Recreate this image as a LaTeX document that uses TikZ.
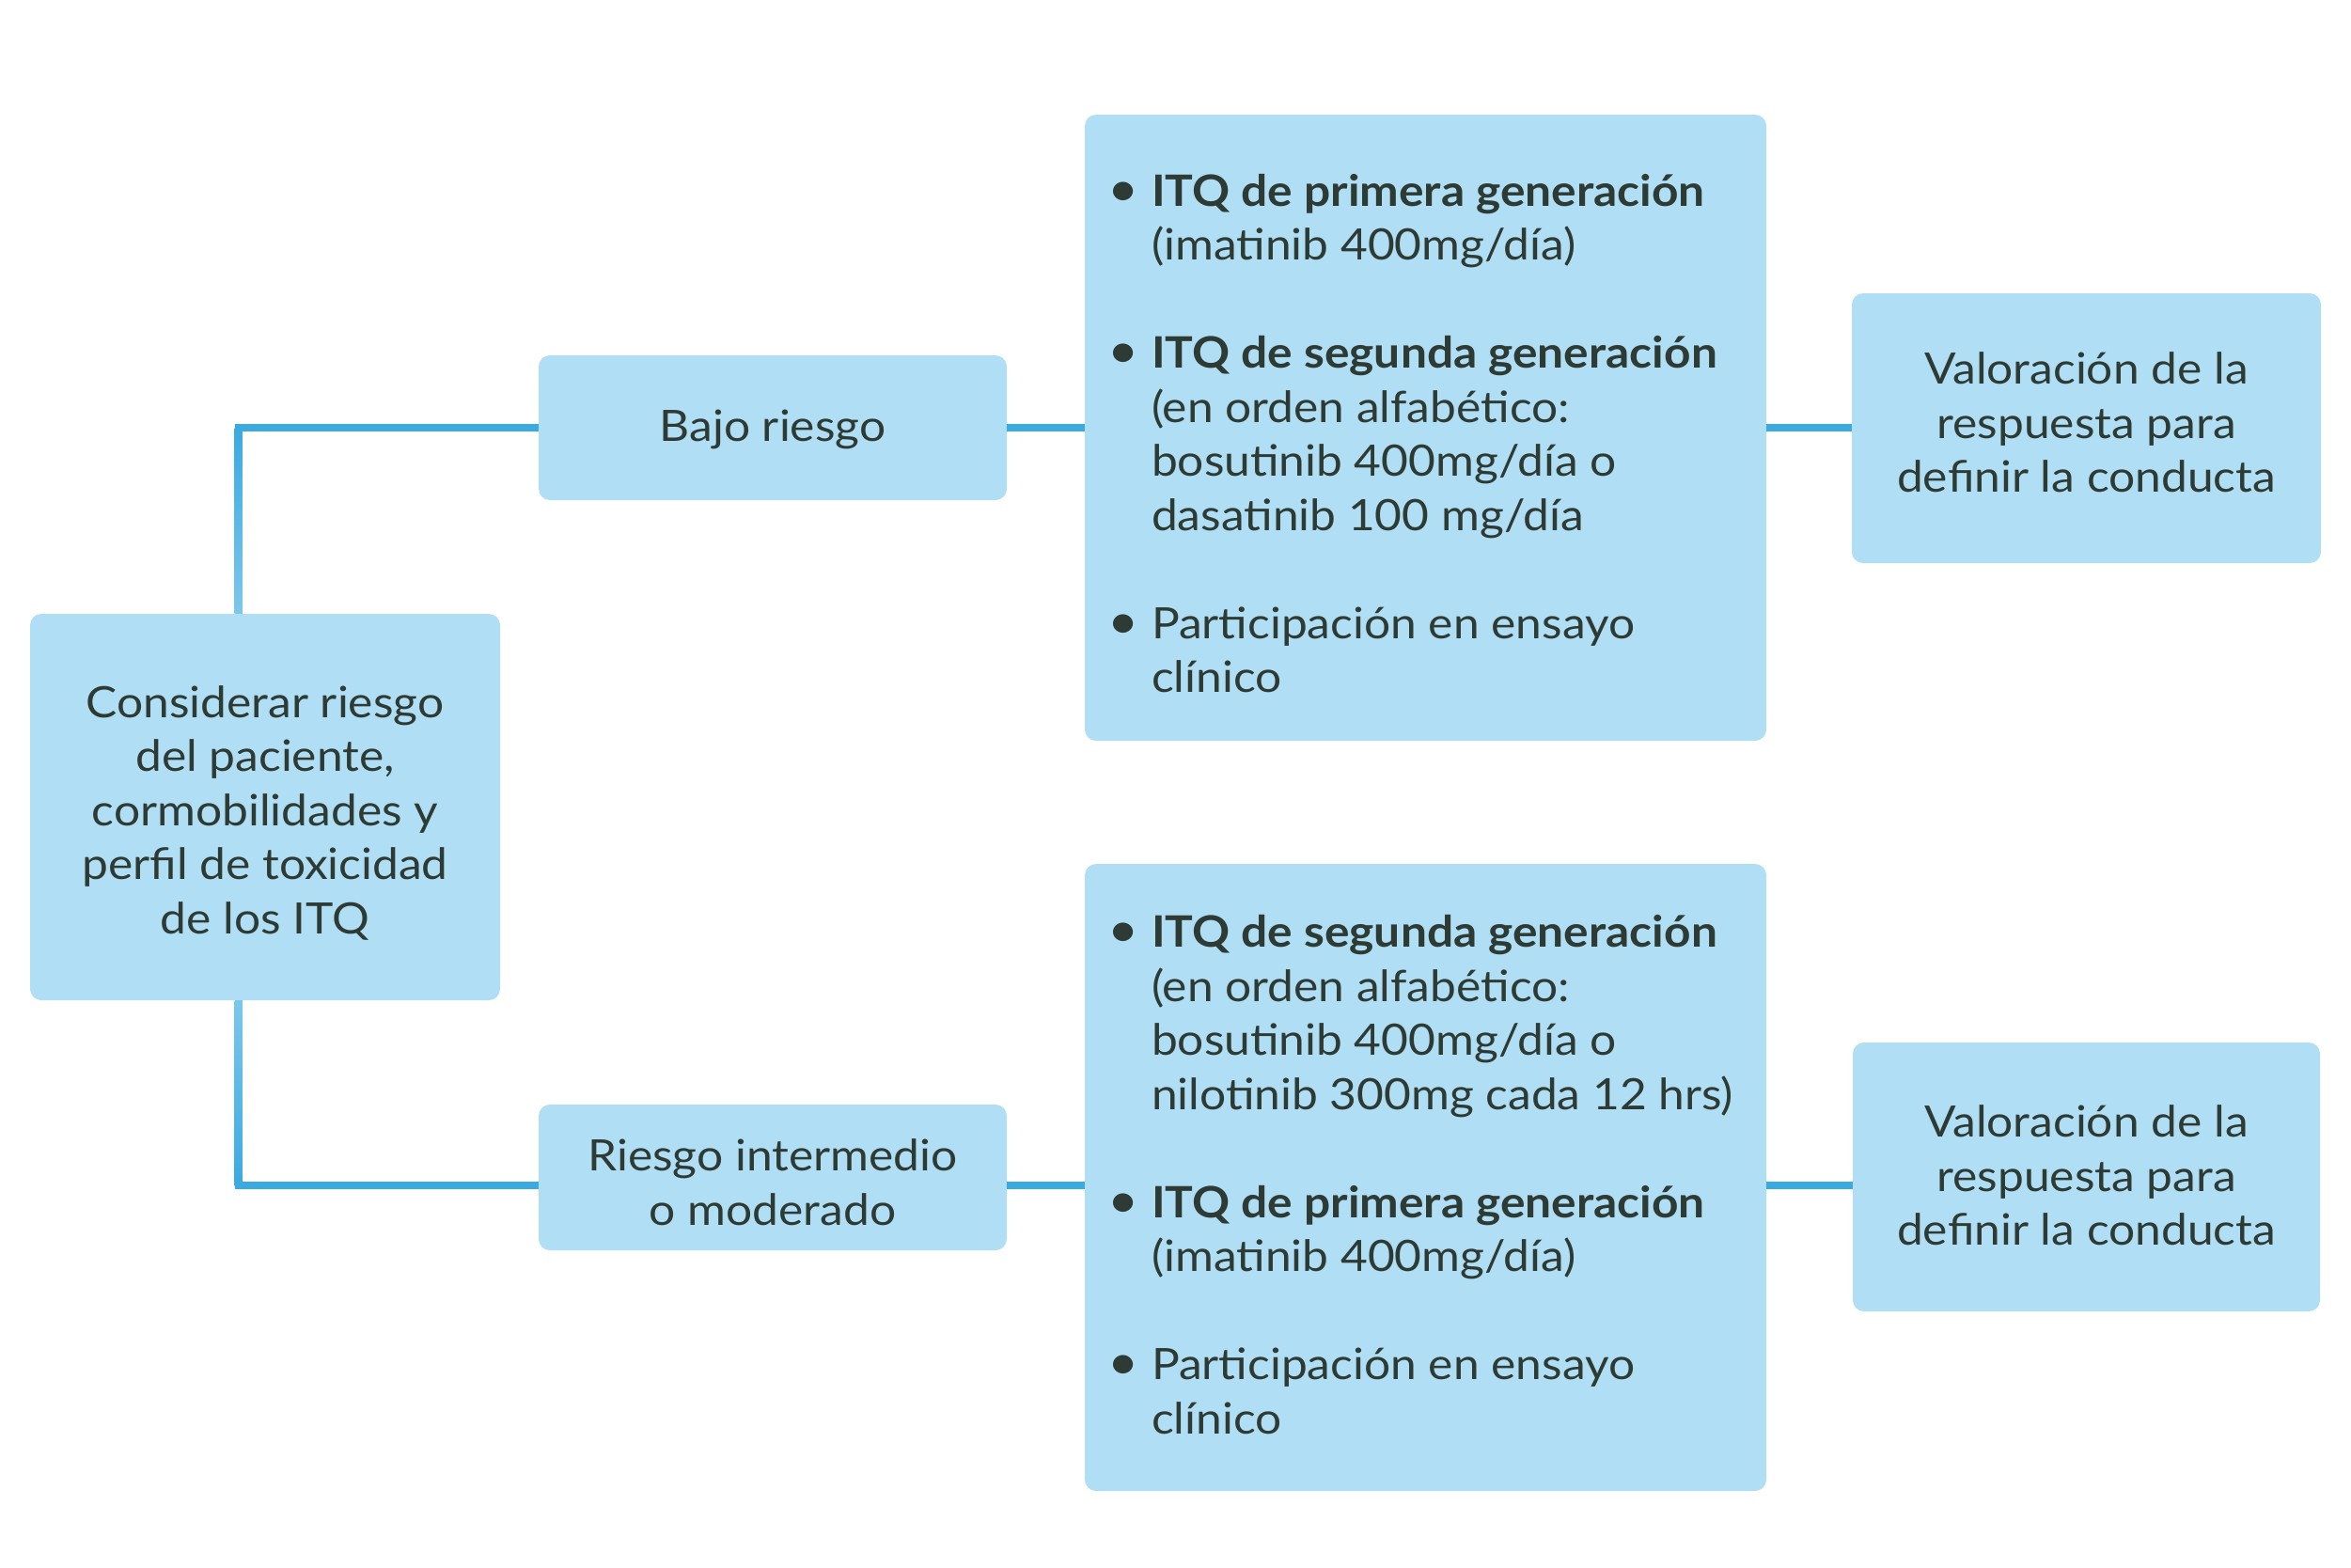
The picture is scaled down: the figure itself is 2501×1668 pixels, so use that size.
\documentclass[tikz,border=0pt]{standalone}
\usepackage{fontspec}
\setmainfont{Lato}[FakeStretch=1.08]
\newcommand\mainfs{\fontsize{46}{57.5}\selectfont}
\newcommand\bul{\llap{\scalebox{1.15}{•}\hspace{13pt}}}
\definecolor{boxblue}{HTML}{B0DEF4}
\definecolor{lineblue}{HTML}{3AAAE1}
\definecolor{linelight}{HTML}{7CC7EC}
\definecolor{txt}{HTML}{2E3A34}
\begin{document}
\begin{tikzpicture}[x=1pt,y=-1pt,
  box/.style={fill=boxblue, rounded corners=12pt, inner sep=0pt},
  lbl/.style={text=txt, align=center, inner sep=0pt, font=\mainfs},
  conn/.style={draw=lineblue, line width=8pt},
  body/.style={text=txt, align=left, inner sep=0pt, font=\mainfs}]
\useasboundingbox[fill=white] (0,0) rectangle (2501,1668);

\node[box, minimum width=500pt, minimum height=411pt] (left) at (282,858.5) {};
\node[box, minimum width=498pt, minimum height=154pt] (bajo) at (822,455) {};
\node[box, minimum width=498pt, minimum height=155pt] (riesgo) at (822,1252.5) {};
\node[box, minimum width=725pt, minimum height=666pt] (big1) at (1516.5,455) {};
\node[box, minimum width=725pt, minimum height=667pt] (big2) at (1516.5,1252.5) {};
\node[box, minimum width=499pt, minimum height=287pt] (right1) at (2219.5,455.5) {};
\node[box, minimum width=497pt, minimum height=286pt] (right2) at (2219.5,1252) {};

\node[lbl, yshift=-6pt] (leftt) at (left)
  {Considerar riesgo\\del paciente,\\cormobilidades y\\perfil de toxicidad\\de los ITQ};
\node[lbl, yshift=-1.5pt] (bajot) at (bajo) {Bajo riesgo};
\node[lbl, yshift=-5pt] (riesgot) at (riesgo) {Riesgo intermedio\\o moderado};
\node[lbl, yshift=6pt] (right1t) at (right1)
  {Valoración de la\\respuesta para\\definir la conducta};
\node[lbl, yshift=1.5pt] (right2t) at (right2)
  {Valoración de la\\respuesta para\\definir la conducta};

\node[body, anchor=west, yshift=-6pt] (t1) at ([xshift=71pt]big1.west) {%
\bul\textbf{ITQ de primera generación}\\
(imatinib 400mg/día)\\[57.5pt]
\bul\textbf{ITQ de segunda generación}\\
(en orden alfabético:\\
bosutinib 400mg/día o\\
dasatinib 100 mg/día\\[57.5pt]
\bul Participación en ensayo\\
clínico};
\node[body, anchor=west, yshift=3pt] (t2) at ([xshift=71pt]big2.west) {%
\bul\textbf{ITQ de segunda generación}\\
(en orden alfabético:\\
bosutinib 400mg/día o\\
nilotinib 300mg cada 12 hrs)\\[57.5pt]
\bul\textbf{ITQ de primera generación}\\
(imatinib 400mg/día)\\[57.5pt]
\bul Participación en ensayo\\
clínico};

\coordinate (spine) at (253.7,0);
\coordinate (lowrow) at (0,1261);

\draw[conn] (left.north -| spine) |- (bajo.west);
\shade[top color=lineblue, bottom color=linelight]
  ([xshift=-4pt]spine |- bajo.west) rectangle ([xshift=4pt]left.north -| spine);
\draw[conn] (left.south -| spine) |- (riesgo.west |- lowrow);
\shade[top color=linelight, bottom color=lineblue]
  ([xshift=-4pt]left.south -| spine) rectangle ([xshift=4pt]spine |- lowrow);

\draw[conn] (bajo.east) -- (big1.west);
\draw[conn] (big1.east) -- (big1.east -| right1.west);
\draw[conn] (riesgo.east |- lowrow) -- (big2.west |- lowrow);
\draw[conn] (big2.east |- lowrow) -- (right2.west |- lowrow);
\end{tikzpicture}
\end{document}
